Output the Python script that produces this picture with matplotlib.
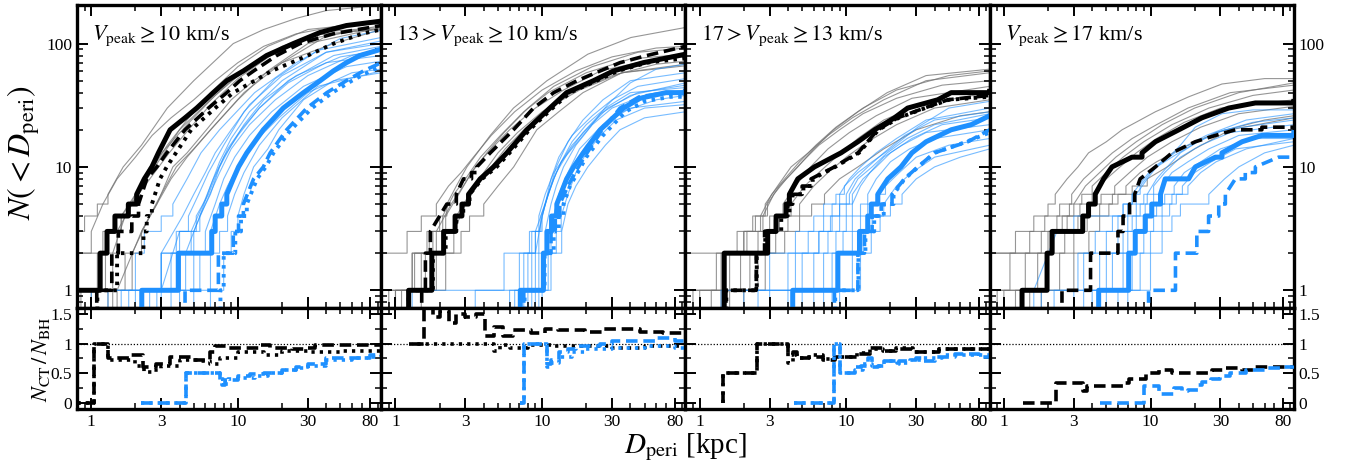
import numpy as np
import matplotlib
matplotlib.use('Agg')
import matplotlib.pyplot as plt
import matplotlib.ticker as mt

plt.rcParams['font.family'] = ['Liberation Serif', 'DejaVu Serif']
plt.rcParams['mathtext.fontset'] = 'stix'

BLUE = '#1E90FF'

# ---------------- panel 1 : Vpeak >= 10 ----------------
# thick curves: [D_peri values, cumulative N]
p1_k_solid = [[0.7, 1.15, 1.28, 1.45, 1.79, 2.04, 2.3, 2.59, 2.87, 3.45, 4.36, 5.24, 6.8, 8.4, 10.9, 15.7, 23.9, 36.4, 55, 95],
              [1, 2, 3, 4, 5, 6, 8, 10, 13, 20, 25, 30, 40, 50, 60, 80, 100, 123, 140, 152]]
p1_k_dash = [[1.09, 1.38, 1.53, 1.89, 2.10, 2.39, 2.8, 3.27, 4.36, 6.3, 8.4, 10.3, 12.8, 18.4, 26.5, 44.8, 95],
             [1, 2, 3, 4, 5, 8, 10, 13, 20, 30, 40, 50, 60, 80, 100, 120, 140]]
p1_k_dot = [[1.1, 1.5, 2.27, 2.39, 2.59, 2.94, 3.27, 4.8, 7.0, 9.3, 13, 17, 30, 45, 70, 95],
            [1, 2, 3, 4, 5, 8, 10, 20, 30, 40, 50, 60, 80, 100, 120, 130]]
p1_b_solid = [[2.21, 3.93, 6.63, 7.0, 7.76, 8.4, 9.3, 10.1, 11.5, 14.9, 20.4, 28, 36.4, 44.8, 55, 68, 95],
              [1, 2, 3, 4, 5, 6, 8, 10, 13, 20, 30, 40, 50, 60, 70, 80, 90]]
p1_b_dash = [[4.36, 7.36, 9.3, 10.1, 10.9, 12.8, 14.9, 16.6, 21.5, 29.5, 40.4, 55, 71.8, 95],
             [1, 2, 3, 4, 5, 8, 10, 13, 20, 30, 40, 50, 60, 70]]
p1_b_dot = [[7.6, 8.0, 9.6, 10.5, 11.5, 13.5, 15.5, 17.5, 23, 32, 44, 60, 80, 95],
            [1, 2, 3, 4, 5, 8, 10, 13, 20, 30, 40, 50, 60, 65]]
# thin curves (individual hosts)
p1_gray = [
  [[0.7, 0.9, 1.1, 1.3, 1.65, 2.2, 3.3, 5.0, 9.3, 15, 25, 40, 95], [3, 4, 5, 6, 10, 15, 30, 50, 100, 130, 160, 185, 205]],
  [[0.7, 1.0, 1.2, 1.5, 2.0, 2.6, 3.5, 5, 7, 10, 15, 25, 50, 95], [2, 3, 5, 8, 12, 18, 25, 35, 50, 70, 95, 120, 140, 145]],
  [[0.8, 1.1, 1.3, 1.6, 2.0, 2.5, 3.3, 4.5, 6.5, 10, 16, 30, 95], [1, 2, 3, 4, 6, 9, 15, 24, 40, 65, 95, 130, 150]],
  [[0.85, 1.25, 1.5, 1.9, 2.4, 3.0, 4.0, 6.0, 9, 14, 25, 60, 95], [1, 2, 3, 5, 8, 12, 20, 32, 50, 75, 105, 125, 130]],
  [[1.0, 1.4, 1.7, 2.0, 2.5, 3.2, 4.5, 7, 11, 20, 40, 95], [1, 2, 4, 6, 10, 14, 22, 38, 60, 95, 125, 135]],
  [[1.5, 2.2, 2.8, 3.6, 4.5, 6.1, 9, 12.8, 20, 45, 95], [1, 3, 5, 10, 13, 20, 35, 50, 70, 100, 130]],
  [[1.3, 1.7, 2.2, 2.8, 3.5, 4.5, 6.5, 10, 16, 30, 95], [1, 2, 3, 5, 8, 12, 20, 35, 60, 100, 135]],
  [[1.4, 1.9, 2.5, 3.0, 3.8, 5, 7, 11, 20, 40, 95], [1, 2, 4, 6, 10, 14, 22, 40, 70, 115, 140]],
  [[0.7, 1.2, 1.6, 2.1, 2.7, 3.4, 4.6, 6.5, 10, 18, 35, 95], [2, 3, 4, 6, 9, 13, 20, 32, 52, 85, 118, 132]],
]
p1_blue = [
  [[1.6, 2.0, 2.3, 3.0, 3.6, 4.5, 5.6, 7.5, 13, 25, 50, 95], [1, 2, 3, 4, 5, 8, 13, 20, 40, 70, 110, 128]],
  [[1.0, 3.0, 3.8, 4.6, 5.4, 6.3, 8, 11, 18, 35, 95], [1, 2, 3, 4, 6, 9, 15, 28, 52, 88, 112]],
  [[1.3, 3.0, 4.2, 5.0, 6.0, 7.0, 9, 12, 20, 40, 95], [1, 2, 4, 6, 9, 13, 20, 32, 55, 85, 100]],
  [[2.0, 3.5, 4.8, 5.8, 6.8, 8, 10, 14, 22, 45, 95], [1, 2, 3, 5, 8, 12, 18, 30, 50, 80, 95]],
  [[2.5, 4.4, 5.5, 6.5, 7.5, 9, 11, 15, 25, 50, 95], [1, 2, 4, 6, 10, 15, 22, 35, 55, 78, 88]],
  [[3.0, 4.0, 5.2, 6.3, 7.2, 8.5, 10.5, 14, 22, 40, 95], [1, 3, 4, 6, 9, 14, 20, 30, 48, 70, 80]],
  [[3.5, 5.0, 6.0, 7.0, 8.0, 9.5, 12, 17, 28, 55, 95], [1, 2, 3, 5, 8, 12, 18, 28, 45, 65, 72]],
  [[4.0, 5.5, 6.5, 7.5, 8.5, 10, 13, 19, 30, 60, 95], [1, 2, 3, 5, 7, 10, 16, 25, 40, 58, 62]],
  [[5.0, 6.5, 7.5, 8.5, 9.5, 11, 14, 20, 35, 95], [1, 2, 3, 4, 6, 9, 15, 25, 45, 60]],
  [[6.5, 8.0, 9.0, 10, 11, 12.8, 16, 19, 28, 45, 95], [1, 2, 3, 4, 6, 10, 14, 20, 35, 50, 58]],
  [[2.8, 3.8, 5.0, 6.0, 7.5, 9.0, 12, 18, 30, 60, 95], [1, 2, 3, 5, 9, 14, 22, 35, 55, 80, 90]],
  [[1.8, 3.0, 4.0, 5.5, 6.5, 7.5, 9.0, 12, 20, 40, 95], [1, 2, 3, 4, 7, 11, 17, 28, 50, 85, 105]],
]
# ratio N_CT / N_BH
p1_r_k_dash = [[0.7, 1.05, 1.31, 1.81, 2.24, 2.77, 3.43, 4.9, 6.5, 7.0, 8.7, 14.3, 16.5, 23.5, 29.1, 33.6, 44.7, 95],
               [0, 1.0, 0.75, 0.8, 0.6, 0.65, 0.78, 0.72, 0.85, 0.95, 0.93, 0.97, 0.93, 0.9, 0.93, 0.97, 0.98, 0.98]]
p1_r_k_dot = [[0.7, 1.05, 1.31, 2.0, 2.3, 2.6, 3.0, 4.0, 5.5, 6.5, 7.5, 10, 15, 20, 30, 50, 95],
              [0, 1.0, 0.72, 0.62, 0.52, 0.55, 0.62, 0.72, 0.7, 0.66, 0.75, 0.85, 0.8, 0.88, 0.85, 0.88, 0.88]]
p1_r_b_dash = [[2.2, 4.4, 7.5, 7.8, 8.2, 10, 12, 15, 20, 25, 30, 40, 60, 80, 95],
               [0, 0.5, 0.35, 0.3, 0.38, 0.45, 0.48, 0.5, 0.55, 0.6, 0.65, 0.75, 0.75, 0.8, 0.8]]
p1_r_b_dot = [[2.2, 4.4, 7.5, 7.9, 8.5, 10, 13, 16, 20, 25, 30, 40, 60, 80, 95],
              [0, 0.5, 0.4, 0.32, 0.4, 0.42, 0.45, 0.5, 0.55, 0.58, 0.62, 0.72, 0.76, 0.78, 0.8]]

# ---------------- panel 2 : 13 > Vpeak >= 10 ----------------
p2_k_solid = [[1.23, 1.77, 2.13, 2.55, 2.84, 3.15, 3.78, 4.66, 5.75, 7.87, 11.3, 14.7, 22.4, 30.7, 49, 95],
              [1, 2, 3, 4, 5, 6, 8, 10, 13, 20, 30, 40, 50, 60, 70, 82]]
p2_k_dash = [[1.51, 1.6, 1.73, 2.24, 2.6, 2.91, 3.3, 3.59, 4.43, 6.38, 8.74, 12.0, 17.3, 24.9, 34, 51.8, 95],
             [1, 2, 3, 5, 6, 8, 9, 10, 13, 20, 30, 40, 50, 60, 70, 80, 95]]
p2_k_dot = [[1.23, 1.8, 2.2, 2.6, 2.9, 3.2, 3.9, 4.9, 6.0, 8.2, 11.8, 15.5, 23.5, 33, 52, 95],
            [1, 2, 3, 4, 5, 6, 8, 10, 13, 20, 30, 40, 50, 60, 70, 76]]
p2_b_solid = [[7.1, 10.2, 10.8, 11.6, 12.6, 14.7, 16.4, 19.1, 24.9, 35.9, 46.6, 70, 95],
              [1, 2, 3, 4, 5, 8, 10, 13, 20, 30, 36, 40, 41]]
p2_b_dash = [[7.5, 10.3, 11.5, 12.3, 13.2, 15, 16.8, 19.4, 24.9, 34, 46, 70, 95],
             [1, 2, 3, 4, 5, 7, 9, 12, 19, 30, 37, 40, 40]]
p2_b_dot = [[7.6, 10.4, 12.0, 13.0, 14.0, 15.5, 17.5, 20, 26, 37, 50, 75, 95],
            [1, 2, 3, 4, 5, 7, 9, 12, 18, 28, 34, 37, 38]]
p2_gray = [
  [[0.7, 1.3, 1.64, 2.0, 2.24, 2.6, 3.07, 4.43, 6.38, 10.8, 20.5, 40.4, 95], [1, 2, 3, 4, 5, 7, 10, 18, 30, 50, 82, 112, 135]],
  [[0.7, 1.2, 1.5, 1.9, 2.3, 2.8, 3.4, 4.5, 6.5, 10, 17, 30, 60, 95], [2, 3, 4, 5, 7, 9, 12, 18, 28, 42, 60, 78, 92, 95]],
  [[0.9, 1.35, 1.7, 2.1, 2.5, 3.0, 3.8, 5.2, 7.5, 11, 20, 40, 95], [1, 2, 3, 4, 6, 8, 12, 18, 28, 40, 58, 75, 82]],
  [[1.0, 1.5, 1.9, 2.4, 2.9, 3.5, 4.5, 6, 9, 14, 25, 50, 95], [1, 2, 3, 5, 7, 10, 14, 20, 30, 42, 60, 72, 78]],
  [[1.1, 1.6, 2.1, 2.6, 3.2, 4.0, 5.0, 6.8, 10, 16, 30, 60, 95], [1, 2, 3, 4, 6, 9, 13, 19, 28, 40, 55, 68, 72]],
  [[1.2, 1.9, 2.5, 3.0, 3.6, 4.5, 5.6, 7.5, 11, 18, 35, 95], [1, 2, 3, 5, 7, 10, 14, 20, 30, 42, 58, 68]],
  [[1.5, 2.2, 2.8, 3.2, 4.0, 5.0, 6.4, 9.2, 13, 19, 35, 95], [1, 2, 3, 4, 5, 7, 10, 20, 28, 40, 58, 66]],
  [[1.0, 1.3, 1.8, 2.2, 2.7, 3.3, 4.2, 5.5, 8, 12, 22, 45, 95], [1, 2, 3, 4, 6, 9, 13, 19, 30, 45, 65, 85, 92]],
]
p2_blue = [
  [[6.0, 7.5, 8.5, 9.5, 10.5, 12, 14.3, 20.5, 28, 40, 60, 95], [1, 2, 3, 4, 6, 9, 12, 20, 32, 48, 62, 68]],
  [[7.0, 8.5, 9.5, 10.5, 11.5, 13, 16, 22, 30, 45, 95], [1, 2, 3, 5, 8, 12, 18, 26, 35, 45, 52]],
  [[7.5, 9.0, 10, 11, 12, 13.5, 16, 20, 28, 45, 95], [1, 2, 4, 6, 8, 11, 15, 20, 30, 40, 46]],
  [[8.0, 9.5, 10.5, 11.5, 12.5, 14, 17, 22, 30, 50, 95], [1, 2, 3, 5, 7, 10, 15, 22, 30, 38, 42]],
  [[8.5, 10, 11, 12, 13, 15, 18, 24, 35, 60, 95], [1, 2, 3, 4, 6, 9, 14, 20, 28, 35, 38]],
  [[9.0, 10.5, 11.5, 12.5, 14, 16, 20, 26, 40, 95], [1, 2, 3, 5, 7, 10, 15, 22, 30, 34]],
  [[9.5, 11, 13.6, 15, 17, 20.5, 27, 34, 50, 95], [1, 2, 3, 5, 7, 10, 15, 20, 25, 28]],
  [[6.5, 8.0, 9.0, 10, 11, 12.5, 15, 19, 26, 40, 95], [1, 2, 3, 4, 6, 10, 16, 24, 35, 50, 58]],
  [[10, 11.5, 12.5, 13.5, 15, 17, 20, 25, 32, 50, 95], [1, 2, 3, 4, 6, 9, 13, 18, 24, 30, 32]],
  [[3.5, 7, 9, 10.5, 12, 13.5, 16, 20, 27, 40, 95], [1, 2, 3, 5, 8, 11, 16, 22, 30, 40, 44]],
  [[1.3, 5.5, 8.2, 9.8, 11, 12.5, 15, 19, 25, 40, 95], [1, 2, 3, 4, 6, 9, 13, 19, 27, 38, 48]],
]
p2_r_k_dash = [[1.3, 1.56, 1.8, 2.0, 2.3, 2.6, 3.0, 3.55, 4.1, 4.72, 5.45, 6.3, 8.4, 10.4, 12.8, 19.7, 26.3, 46.5, 66.5, 95],
               [1.0, 1.6, 1.45, 1.55, 1.35, 1.5, 1.45, 1.5, 1.12, 1.28, 1.12, 1.22, 1.18, 1.25, 1.22, 1.2, 1.25, 1.2, 1.17, 1.15]]
p2_r_k_dot = [[1.23, 4.7, 5.2, 6, 8, 12, 20, 30, 50, 95],
              [1.0, 0.88, 0.97, 0.93, 0.97, 0.95, 0.95, 0.93, 0.95, 0.95]]
p2_r_b_dash = [[7.1, 7.5, 10.5, 10.8, 11.5, 13, 15, 17, 25, 30, 60, 80, 95],
               [0, 1.0, 1.0, 0.65, 0.72, 0.85, 0.9, 0.95, 1.0, 1.05, 1.1, 1.05, 1.05]]
p2_r_b_dot = [[7.1, 7.5, 10.5, 10.8, 11.5, 13, 16, 20, 30, 50, 80, 95],
              [0, 1.0, 1.0, 0.6, 0.68, 0.78, 0.85, 0.9, 0.92, 0.95, 0.93, 0.93]]

# ---------------- panel 3 : 17 > Vpeak >= 13 ----------------
p3_k_solid = [[1.47, 2.69, 2.91, 3.32, 3.88, 4.09, 4.67, 6.06, 9.2, 12.0, 15.6, 21.3, 26.2, 42, 51.9, 95],
              [2, 2, 3, 4, 5, 6, 8, 10, 13, 16, 20, 25, 30, 35, 40, 41]]
p3_k_dash = [[1.51, 2.43, 2.77, 3.3, 3.99, 4.09, 5.0, 5.75, 8.3, 12.0, 16.4, 22.4, 34.1, 49.2, 95],
             [1, 2, 3, 4, 5, 6, 7, 8, 10, 13, 20, 25, 30, 35, 38]]
p3_k_dot = [[1.52, 2.45, 2.8, 3.6, 4.1, 4.3, 5.1, 5.9, 8.4, 12.2, 16.6, 22.8, 34.5, 50, 95],
            [1, 2, 3, 4, 5, 6, 7, 8, 10, 13, 20, 25, 30, 35, 37]]
p3_b_solid = [[4.31, 8.75, 12.3, 14.0, 14.8, 16.4, 19.2, 23.6, 28, 35, 51.9, 71, 95],
              [1, 2, 3, 4, 5, 6, 8, 10, 13, 16, 20, 22, 26]]
p3_b_dash = [[8.3, 12.0, 13.3, 15, 17.3, 20.5, 24.9, 30.7, 39.9, 67.4, 95],
             [1, 2, 3, 4, 5, 6, 8, 10, 13, 16, 20]]
p3_b_dot = [[8.4, 12.1, 13.5, 15.5, 18, 21, 25, 31, 40, 66, 95],
            [1, 2, 3, 4, 5, 6, 8, 10, 13, 16, 19]]
p3_gray = [
  [[0.7, 1.5, 2.0, 2.4, 2.9, 3.5, 4.67, 6, 8.2, 12, 19, 35, 95], [2, 2, 3, 4, 5, 7, 10, 14, 20, 28, 40, 55, 62]],
  [[0.8, 1.3, 1.8, 2.3, 2.8, 3.4, 4.2, 5.5, 7.5, 11, 18, 35, 95], [1, 2, 3, 4, 5, 7, 10, 13, 18, 25, 35, 50, 58]],
  [[1.0, 1.6, 2.1, 2.7, 3.2, 3.9, 5, 6.5, 9, 13, 22, 45, 95], [1, 2, 3, 4, 6, 8, 11, 15, 20, 27, 36, 46, 50]],
  [[1.2, 1.9, 2.5, 3.0, 3.7, 4.5, 5.7, 7.5, 10.5, 16, 28, 95], [1, 2, 3, 4, 5, 7, 10, 14, 19, 26, 36, 45]],
  [[1.4, 2.2, 2.9, 3.5, 4.2, 5.2, 6.5, 8.5, 12, 18, 32, 95], [1, 2, 3, 4, 5, 7, 9, 12, 17, 24, 32, 40]],
  [[1.6, 2.5, 3.3, 4.0, 4.8, 6.0, 7.5, 10, 14, 22, 40, 95], [1, 2, 3, 4, 5, 7, 9, 12, 16, 22, 30, 35]],
  [[2.0, 2.8, 3.8, 4.8, 5.8, 7.1, 9, 12, 18, 30, 60, 95], [1, 2, 3, 4, 5, 6, 8, 10, 14, 20, 26, 28]],
  [[0.9, 1.4, 2.0, 2.6, 3.1, 3.8, 4.8, 6.2, 8.5, 13, 22, 50, 95], [1, 2, 3, 4, 6, 8, 11, 15, 21, 30, 42, 55, 60]],
]
p3_blue = [
  [[2.0, 3.0, 4.5, 6.0, 7.0, 8.5, 9.7, 12, 15, 20, 30.7, 50, 95], [1, 2, 3, 4, 5, 6, 7, 9, 11, 14, 21, 30, 34]],
  [[3.0, 5.0, 6.5, 8.0, 9.0, 10, 11.5, 14, 18, 25, 40, 95], [1, 2, 3, 4, 5, 6, 8, 10, 13, 18, 24, 28]],
  [[4.0, 6.0, 7.5, 9.0, 10, 11, 13, 16, 20, 28, 45, 95], [1, 2, 3, 4, 5, 6, 8, 10, 13, 17, 22, 25]],
  [[5.0, 7.0, 8.5, 10, 11, 12.5, 14.5, 18, 24, 35, 95], [1, 2, 3, 4, 5, 7, 9, 12, 15, 19, 22]],
  [[6.0, 8.0, 9.5, 11, 12.5, 14, 16, 20, 27, 40, 95], [1, 2, 3, 4, 5, 6, 8, 11, 14, 17, 20]],
  [[7.0, 9.0, 11, 12.5, 14, 16, 18.5, 23, 30, 50, 95], [1, 2, 3, 4, 5, 6, 7, 9, 12, 15, 17]],
  [[8.0, 12.5, 14.8, 17, 20, 24, 30, 40, 60, 95], [1, 2, 3, 4, 5, 6, 8, 10, 12, 14]],
  [[2.5, 4.0, 5.5, 7.0, 8.0, 9.0, 10.5, 12.5, 16, 22, 35, 95], [1, 2, 3, 4, 5, 6, 8, 10, 13, 17, 24, 30]],
  [[9.0, 11, 13, 15, 18, 22, 28, 40, 95], [1, 2, 3, 4, 5, 7, 9, 12, 15]],
  [[1.4, 4.5, 6.5, 7.8, 9.0, 10.5, 12, 15, 19, 26, 40, 95], [1, 2, 3, 4, 5, 6, 8, 10, 13, 17, 22, 27]],
]
p3_r_k_dash = [[1.44, 1.45, 2.45, 3.75, 4.0, 4.3, 4.6, 5.6, 6.9, 8.4, 11.9, 14.5, 17.8, 21.8, 28.6, 42.9, 95],
               [0, 0.5, 1.0, 1.0, 0.8, 0.85, 0.75, 0.78, 0.72, 0.78, 0.82, 0.92, 0.88, 0.9, 0.85, 0.9, 0.9]]
p3_r_k_dot = [[1.44, 1.45, 2.45, 3.75, 4.0, 4.3, 4.6, 5.6, 6.9, 8.4, 11.9, 14.5, 17.8, 21.8, 28.6, 42.9, 95],
              [0, 0.5, 1.0, 1.0, 0.67, 0.8, 0.75, 0.8, 0.74, 0.78, 0.84, 0.9, 0.88, 0.92, 0.86, 0.9, 0.9]]
p3_r_b_dash = [[4.4, 8.2, 9.0, 11.5, 12.5, 14.0, 15, 16.5, 18, 21.8, 23, 27, 30, 33, 40, 55, 80, 95],
               [0, 1.0, 0.5, 0.6, 0.62, 0.75, 0.6, 0.62, 0.7, 0.66, 0.7, 0.72, 0.75, 0.7, 0.78, 0.82, 0.78, 0.78]]
p3_r_b_dot = [[4.4, 8.2, 9.0, 11.5, 13, 15, 18, 22, 27, 33, 45, 70, 95],
              [0, 1.0, 0.5, 0.55, 0.65, 0.62, 0.7, 0.68, 0.72, 0.75, 0.8, 0.8, 0.8]]

# ---------------- panel 4 : Vpeak >= 17 ----------------
p4_k_solid = [[1.33, 1.97, 2.13, 3.45, 3.78, 4.2, 4.79, 5.46, 7.48, 8.75, 10.8, 15.6, 22.4, 34.1, 51.9, 95],
              [1, 2, 3, 4, 5, 6, 8, 10, 12, 13, 16, 20, 25, 30, 33, 34]]
p4_k_dash = [[2.49, 3.9, 6.0, 6.5, 7.2, 7.8, 8.5, 10.8, 14.0, 20.2, 27.7, 37.9, 57.5, 95],
             [1, 2, 3, 4, 5, 6, 8, 10, 13, 16, 18, 20, 21, 21]]
p4_b_solid = [[4.43, 7.1, 7.87, 9.2, 10.2, 11.7, 12.6, 18.2, 20.2, 27.7, 30.7, 42.1, 57.5, 95],
              [1, 2, 3, 4, 5, 6, 8, 8, 10, 12, 13, 16, 18, 19]]
p4_b_dash = [[9.7, 14.8, 20.7, 24.9, 29.2, 32.4, 37.9, 44.3, 51.9, 74.8, 95],
             [1, 2, 3, 4, 5, 6, 8, 9, 10, 12, 12]]
p4_gray = [
  [[0.7, 1.2, 1.6, 2.0, 2.24, 2.7, 3.2, 3.78, 5, 6.4, 10.8, 18.2, 30.7, 60, 95], [2, 3, 4, 5, 6, 8, 10, 13, 16, 20, 28, 37, 47, 52, 53]],
  [[0.8, 1.1, 1.5, 1.9, 2.4, 2.9, 3.5, 4.3, 5.5, 7.5, 11, 18, 35, 95], [1, 2, 3, 4, 5, 6, 8, 10, 13, 17, 22, 30, 40, 46]],
  [[0.9, 1.4, 1.8, 2.3, 2.8, 3.4, 4.0, 5.0, 6.5, 9, 14, 25, 50, 95], [1, 2, 3, 4, 5, 6, 7, 9, 12, 16, 22, 30, 38, 42]],
  [[1.0, 1.7, 2.2, 2.7, 3.3, 4.0, 5.0, 6.2, 8, 11, 17, 30, 95], [1, 2, 3, 4, 5, 6, 8, 10, 13, 17, 23, 30, 35]],
  [[1.2, 2.0, 2.6, 3.2, 3.8, 4.6, 5.7, 7.2, 9.5, 14, 22, 40, 95], [1, 2, 3, 4, 5, 6, 7, 9, 12, 16, 21, 27, 31]],
  [[1.5, 2.4, 3.0, 3.7, 4.5, 5.5, 6.8, 8.5, 11, 16, 28, 60, 95], [1, 2, 3, 4, 5, 6, 7, 9, 11, 14, 19, 24, 26]],
  [[1.8, 3.0, 3.8, 4.5, 5.2, 6.0, 7.5, 9.5, 13, 20, 35, 95], [1, 2, 3, 4, 5, 6, 7, 8, 10, 14, 20, 25]],
  [[0.7, 1.6, 2.0, 2.5, 3.0, 3.6, 4.5, 5.8, 8, 12, 20, 40, 95], [2, 2, 3, 4, 5, 7, 9, 12, 16, 22, 30, 40, 48]],
]
p4_blue = [
  [[1.6, 2.3, 3.0, 6.5, 7.5, 9, 10.5, 13.3, 16, 20.2, 30.7, 50, 95], [1, 3, 4, 5, 6, 8, 10, 12, 15, 21, 27, 29, 30]],
  [[2.2, 3.5, 5.0, 6.0, 7.0, 8.0, 9.5, 11, 14, 19, 28, 50, 95], [1, 2, 3, 4, 5, 6, 8, 10, 12, 15, 19, 23, 25]],
  [[3.0, 4.5, 6.0, 7.0, 8.0, 9.0, 10.5, 12.5, 16, 22, 35, 95], [1, 2, 3, 4, 5, 6, 7, 9, 12, 15, 19, 22]],
  [[4.0, 5.5, 7.0, 8.0, 9.2, 10.5, 12, 14, 18, 25, 40, 95], [1, 2, 3, 4, 5, 6, 7, 9, 11, 14, 18, 20]],
  [[4.5, 6.5, 8.0, 9.5, 11, 12.5, 14.5, 17, 22, 30, 50, 95], [1, 2, 3, 4, 5, 6, 7, 9, 11, 14, 17, 18]],
  [[5.0, 7.5, 9.0, 10.5, 12, 14, 16.5, 20, 26, 38, 95], [1, 2, 3, 4, 5, 6, 7, 9, 11, 14, 16]],
  [[7.0, 10, 12, 14, 16, 25, 32, 40, 60, 95], [1, 2, 3, 4, 5, 6, 8, 10, 13, 15]],
  [[3.5, 5.0, 6.5, 7.5, 8.5, 9.5, 11, 13, 16, 21, 32, 95], [1, 2, 3, 4, 5, 6, 8, 10, 13, 16, 20, 24]],
  [[1.8, 3.2, 4.2, 5.5, 6.5, 7.5, 8.5, 10, 12, 16, 24, 45, 95], [1, 2, 3, 4, 5, 6, 7, 9, 11, 14, 18, 24, 27]],
  [[6.0, 8.5, 10, 12, 13.5, 15, 18, 22, 28, 45, 95], [1, 2, 3, 4, 5, 6, 7, 9, 11, 14, 17]],
]
p4_r_k_dash = [[1.36, 2.28, 3.44, 3.7, 6.6, 7.1, 9.3, 11.5, 14.1, 26.2, 32.2, 42.4, 52, 95],
               [0, 0.33, 0.2, 0.28, 0.33, 0.4, 0.5, 0.55, 0.5, 0.55, 0.58, 0.55, 0.6, 0.6]]
p4_r_b_dash = [[4.5, 9.0, 11.5, 14.5, 16.5, 18, 21, 22.5, 26, 30, 35, 45, 60, 80, 95],
               [0, 0.28, 0.15, 0.25, 0.2, 0.22, 0.3, 0.35, 0.4, 0.45, 0.5, 0.55, 0.58, 0.6, 0.62]]

titles = [r'$V_{\rm peak} \geq 10$ km/s', r'$13 > V_{\rm peak} \geq 10$ km/s',
          r'$17 > V_{\rm peak} \geq 13$ km/s', r'$V_{\rm peak} \geq 17$ km/s']

panels = [
  dict(k=(p1_k_solid, p1_k_dash, p1_k_dot), b=(p1_b_solid, p1_b_dash, p1_b_dot), gray=p1_gray, blue=p1_blue,
       rk=(p1_r_k_dash, p1_r_k_dot), rb=(p1_r_b_dash, p1_r_b_dot)),
  dict(k=(p2_k_solid, p2_k_dash, p2_k_dot), b=(p2_b_solid, p2_b_dash, p2_b_dot), gray=p2_gray, blue=p2_blue,
       rk=(p2_r_k_dash, p2_r_k_dot), rb=(p2_r_b_dash, p2_r_b_dot)),
  dict(k=(p3_k_solid, p3_k_dash, p3_k_dot), b=(p3_b_solid, p3_b_dash, p3_b_dot), gray=p3_gray, blue=p3_blue,
       rk=(p3_r_k_dash, p3_r_k_dot), rb=(p3_r_b_dash, p3_r_b_dot)),
  dict(k=(p4_k_solid, p4_k_dash, None), b=(p4_b_solid, p4_b_dash, None), gray=p4_gray, blue=p4_blue,
       rk=(p4_r_k_dash, None), rb=(p4_r_b_dash, None)),
]

DASH = (0, (3.2, 1.6))
DOT = (0, (0.9, 1.4))


def cum_path(x, n):
  # step-like path: start from below the axis, unit jumps drawn as steps
  xs, ys = [x[0]], [0.3]
  for i in range(len(x)):
    if i > 0 and n[i] - n[i - 1] <= 1:
      xs.append(x[i]); ys.append(n[i - 1])
    xs.append(x[i]); ys.append(n[i])
  return xs, ys


def style_axis(ax):
  for s in ax.spines.values():
    s.set_linewidth(2.4)
  ax.tick_params(which='both', direction='in', top=True, right=True, labelsize=12.5)
  ax.tick_params(which='major', length=8, width=1.4)
  ax.tick_params(which='minor', length=4.5, width=1.1)


fig = plt.figure(figsize=(13.52, 4.63), dpi=100)
gs = fig.add_gridspec(2, 4, height_ratios=[3, 1], left=0.057, right=0.957, top=0.989, bottom=0.117,
                      hspace=0, wspace=0)

for j, p in enumerate(panels):
  ax = fig.add_subplot(gs[0, j])
  axr = fig.add_subplot(gs[1, j], sharex=ax)

  # thin individual curves
  for x, n in p['gray']:
    xs, ys = cum_path(x, n)
    ax.plot(xs, ys, color='0.45', lw=0.8, alpha=0.75, zorder=1)
  for x, n in p['blue']:
    xs, ys = cum_path(x, n)
    ax.plot(xs, ys, color=BLUE, lw=0.8, alpha=0.6, zorder=1)

  # thick curves
  for col, trio in (('k', p['k']), (BLUE, p['b'])):
    solid, dash, dot = trio
    xs, ys = cum_path(*solid)
    ax.plot(xs, ys, color=col, lw=3.6, zorder=4)
    xs, ys = cum_path(*dash)
    ax.plot(xs, ys, color=col, lw=2.6, ls=DASH, zorder=5)
    if dot is not None:
      xs, ys = cum_path(*dot)
      ax.plot(xs, ys, color=col, lw=2.8, ls=DOT, zorder=5)

  # ratio panel
  axr.axhline(1, color='k', lw=0.9, ls=(0, (1, 1.5)), zorder=1)
  for col, pair in (('k', p['rk']), (BLUE, p['rb'])):
    rd, rdot = pair
    axr.step(rd[0], rd[1], where='post', color=col, lw=2.6, ls=DASH, zorder=4)
    if rdot is not None:
      axr.step(rdot[0], rdot[1], where='post', color=col, lw=2.6, ls=DOT, zorder=4)

  ax.set_xscale('log')
  ax.set_yscale('log')
  ax.set_xlim(0.8, 95)
  ax.set_ylim(0.72, 205)
  axr.set_ylim(-0.1, 1.6)

  ax.set_yticks([1, 10, 100])
  ax.yaxis.set_major_formatter(mt.FuncFormatter(lambda v, pos: f'{v:g}'))
  ax.yaxis.set_minor_locator(mt.LogLocator(base=10, subs=np.arange(2, 10)))
  ax.yaxis.set_minor_formatter(mt.NullFormatter())

  axr.set_xticks([1, 3, 10, 30, 80])
  axr.set_xticks([0.9, 2, 4, 5, 6, 7, 8, 9, 20, 40, 50, 60, 70, 90], minor=True)
  axr.xaxis.set_major_formatter(mt.FuncFormatter(lambda v, pos: f'{v:g}'))
  axr.xaxis.set_minor_formatter(mt.NullFormatter())
  axr.set_yticks([0, 0.5, 1, 1.5])
  axr.set_yticklabels(['0', '0.5', '1', '1.5'])
  axr.yaxis.set_minor_locator(mt.MultipleLocator(0.25))

  style_axis(ax)
  style_axis(axr)
  ax.tick_params(labelbottom=False)
  if j == 0:
    ax.tick_params(labelleft=True, labelright=False)
    axr.tick_params(labelleft=True, labelright=False)
  elif j == 3:
    ax.tick_params(labelleft=False, labelright=True)
    axr.tick_params(labelleft=False, labelright=True)
  else:
    ax.tick_params(labelleft=False, labelright=False)
    axr.tick_params(labelleft=False, labelright=False)

  ax.text(0.05, 0.9, titles[j], transform=ax.transAxes, fontsize=16, va='center', ha='left')

fig.text(0.018, 0.67, r'$N(<D_{\rm peri})$', rotation=90, fontsize=23, va='center', ha='center')
fig.text(0.03, 0.225, r'$N_{\rm CT}\,/\,N_{\rm BH}$', rotation=90, fontsize=16, va='center', ha='center')
fig.text(0.507, 0.035, r'$D_{\rm peri}$ [kpc]', fontsize=21, va='center', ha='center')

fig.savefig('out.png', dpi=100)
